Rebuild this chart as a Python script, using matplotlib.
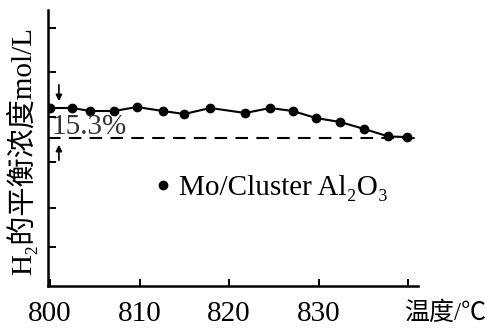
import matplotlib
matplotlib.use("Agg")
import matplotlib.pyplot as plt

# temperatures (°C) and H2 equilibrium concentration (arbitrary units)
temps = [800, 802.5, 804.5, 807.2, 809.7, 812.6, 815.0, 817.9,
         821.8, 824.6, 827.1, 829.7, 832.4, 835.1, 837.8, 839.9]
conc = [1.78, 1.78, 1.75, 1.75, 1.79, 1.75, 1.72, 1.78,
        1.73, 1.78, 1.75, 1.68, 1.64, 1.57, 1.495, 1.49]
baseline = 1.483
yticks = [0.39, 0.78, 1.24, 1.69, 2.14, 2.58]
xticks = [800, 810, 820, 830, 840]
xticklabels = ["800", "810", "820", "830", ""]
series_name = "Mo/Cluster Al₂O₃"
drop_label = "15.3%"

fam = ["Liberation Serif", "Noto Sans CJK SC", "DejaVu Serif"]
plt.rcParams["font.family"] = fam

W, H = 487, 328
fig = plt.figure(figsize=(W / 100, H / 100), dpi=100)
ax = fig.add_axes([48 / W, (H - 286) / H, (418 - 48) / W, (286 - 10) / H])

ax.plot(temps, conc, color="black", lw=1.5, marker="o", markersize=6,
        label=series_name, zorder=3)
ax.plot([799.78, 841.1], [baseline, baseline], color="black", lw=1.5,
        dashes=(6, 4), zorder=2)

ax.set_xlim(799.78, 841.1)
ax.set_ylim(0, 2.76)
ax.set_xticks(xticks)
ax.set_xticklabels(xticklabels)
ax.set_yticks(yticks)
ax.set_yticklabels([])

for s in ["top", "right"]:
    ax.spines[s].set_visible(False)
for s in ["left", "bottom"]:
    ax.spines[s].set_linewidth(1.8)
ax.tick_params(axis="both", direction="in", width=1.4, labelsize=21, pad=11)
ax.tick_params(axis="y", length=6)
ax.tick_params(axis="x", length=5)

# arrows and percent drop
ax.annotate("", xy=(801.0, 1.82), xytext=(801.0, 2.04),
            arrowprops=dict(arrowstyle="-|>", color="black", lw=1.2, mutation_scale=9))
ax.annotate("", xy=(801.0, 1.44), xytext=(801.0, 1.23),
            arrowprops=dict(arrowstyle="-|>", color="black", lw=1.2, mutation_scale=9))
ax.text(800.2, 1.59, drop_label, fontsize=21, ha="left", va="center", color="#333333")

leg = ax.legend(loc="center left", bbox_to_anchor=(0.29, 0.355), frameon=False,
                fontsize=21, handlelength=0.5, handletextpad=0.3,
                borderpad=0, borderaxespad=0)
for line in leg.get_lines():
    line.set_linestyle("none")

ax.set_ylabel("H₂的平衡浓度mol/L", fontsize=21, va="center")
ax.yaxis.set_label_coords((22 - 48) / 370, 0.49)
ax.set_xlabel("温度/℃", fontsize=18, ha="right", va="center")
ax.xaxis.set_label_coords((486 - 48) / 370, (286 - 313) / 276)

fig.savefig("out.png", dpi=100)
